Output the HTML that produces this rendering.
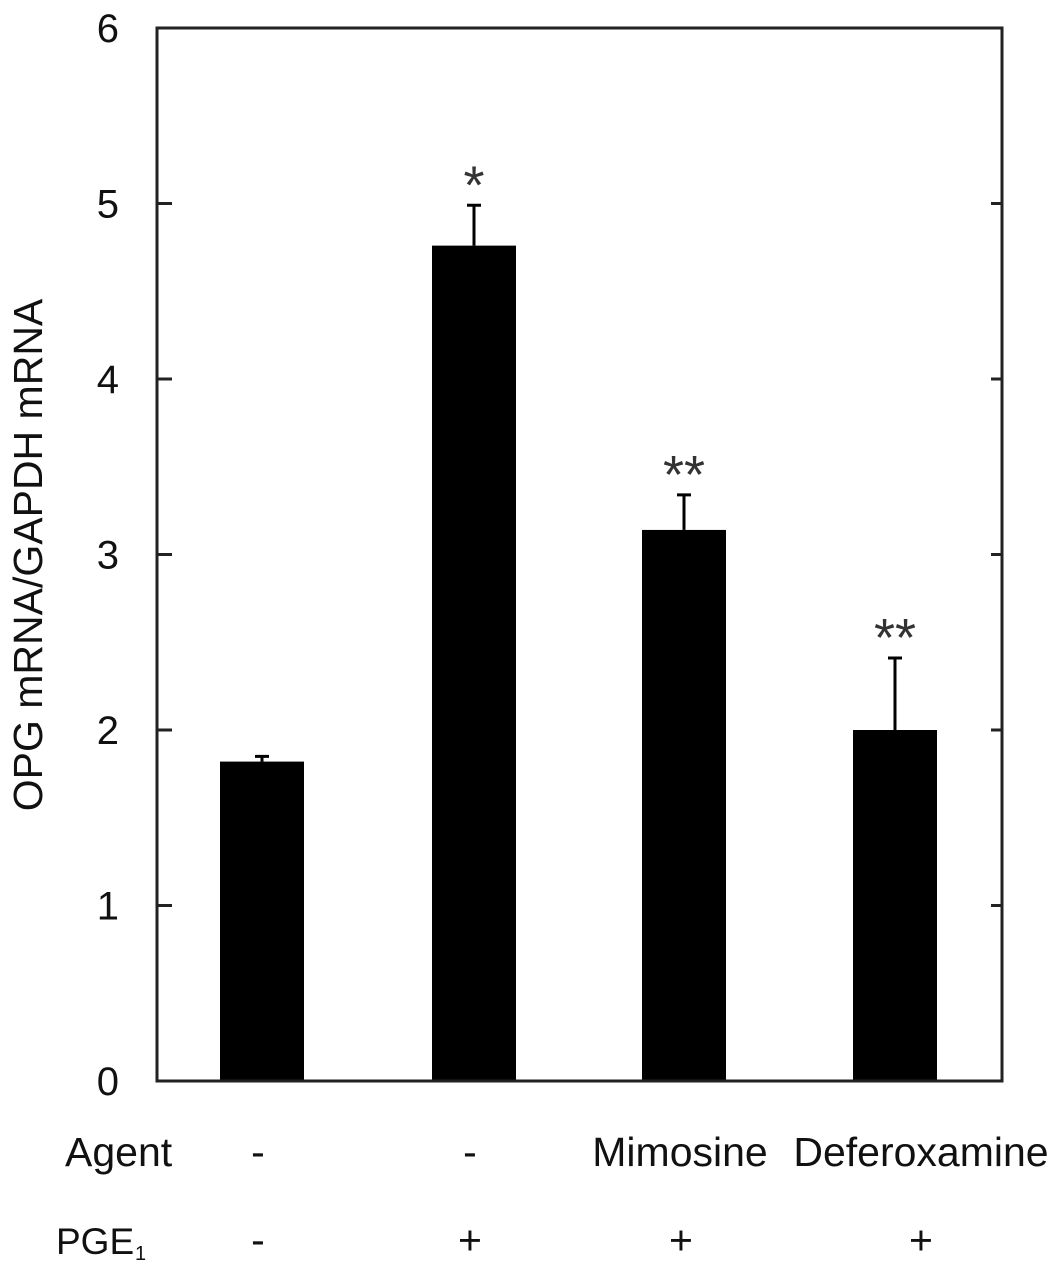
<!DOCTYPE html>
<html><head><meta charset="utf-8"><style>
body{margin:0;background:#fff;}
svg{display:block;font-family:"Liberation Sans",sans-serif;}
</style></head><body>
<svg id="chart" width="1063" height="1276"></svg>
<script>
const categories=["Control","PGE1","Mimosine+PGE1","Deferoxamine+PGE1"];
const means=[1.82,4.76,3.14,2.0];
const errors=[0.03,0.23,0.20,0.41];
const marks=["","*","**","**"];
const agentLabels=["-","-","Mimosine","Deferoxamine"];
const pgeLabels=["-","+","+","+"];
const yTicks=[0,1,2,3,4,5,6];
const NS="http://www.w3.org/2000/svg";
const svg=document.getElementById("chart");
const L=157,R=1002,T=28,B=1081,yMax=6;
const centers=[262,474,684,895];
const agentX=[258,470,680,921];
const pgeX=[258,470,681,921];
const bw=84;
function y(v){return B-(v/yMax)*(B-T);}
function el(tag,attrs,text){const e=document.createElementNS(NS,tag);for(const k in attrs)e.setAttribute(k,attrs[k]);if(text!==undefined)e.textContent=text;svg.appendChild(e);return e;}
categories.forEach((c,i)=>{
  const cx=centers[i];
  const b=el("rect",{x:cx-bw/2,y:y(means[i]),width:bw,height:B-y(means[i]),fill:"#000"});
  
  
  const top=y(means[i]+errors[i]);
  const eb=el("path",{d:`M${cx},${y(means[i])}V${top}M${cx-7},${top}H${cx+7}`,stroke:"#000","stroke-width":3,fill:"none"});
  
  
  if(marks[i]){
    const m=el("text",{x:cx,y:top-2,"text-anchor":"middle","font-size":54,fill:"#333"},marks[i]);
    
    
  }
  const a=el("text",{x:agentX[i],y:1166,"text-anchor":"middle","font-size":41,fill:"#111"},agentLabels[i]);
  
  
  const p=el("text",{x:pgeX[i],y:1254,"text-anchor":"middle","font-size":41,fill:"#111"},pgeLabels[i]);
  
  
});
const fr=el("rect",{x:L,y:T,width:R-L,height:B-T,fill:"none",stroke:"#222","stroke-width":3});


yTicks.forEach(t=>{
  const yy=y(t);
  if(t>0&&t<yMax){
    el("line",{x1:L,x2:L+15,y1:yy,y2:yy,stroke:"#222","stroke-width":3});
    el("line",{x1:R-11,x2:R,y1:yy,y2:yy,stroke:"#222","stroke-width":3});
  }
  const tl=el("text",{x:119,y:yy+14,"text-anchor":"end","font-size":40,fill:"#111"},t);
  
  
});
const yt=el("text",{x:0,y:0,transform:"translate(42,555) rotate(-90)","text-anchor":"middle","font-size":41,fill:"#111"},"OPG mRNA/GAPDH mRNA");


const ag=el("text",{x:65,y:1166,"font-size":41,fill:"#111"},"Agent");


const pg=el("text",{x:56,y:1254,"font-size":37,fill:"#111"},"PGE");


el("text",{x:135,y:1260,"font-size":20,fill:"#111"},"1");
</script>
</body></html>
